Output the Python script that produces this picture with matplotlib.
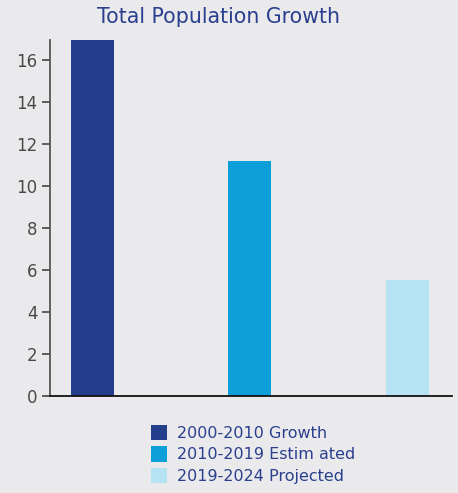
import matplotlib.pyplot as plt
from matplotlib.patches import Patch

periods = ["2000-2010 Growth", "2010-2019 Estim ated", "2019-2024 Projected"]
growth = [16.95, 11.2, 5.5]
colors = ["#233f8b", "#0e9fd9", "#b6e3f4"]
yticks = [0, 2, 4, 6, 8, 10, 12, 14, 16]

bg = "#eaeaec"
text_blue = "#2a3f8e"

fig = plt.figure(figsize=(4.58, 4.93), dpi=100, facecolor=bg)
ax = fig.add_axes([0.109, 0.197, 0.878, 0.722], facecolor=bg)

ax.bar(range(len(growth)), growth, width=0.273, color=colors)

ax.set_xlim(-0.27, 2.283)
ax.set_ylim(0, 16.95)
ax.set_yticks(yticks)
ax.set_xticks([])
ax.tick_params(axis="y", direction="out", length=6, width=1.2, color="#444444",
               labelcolor="#4a4a4a", labelsize=12, pad=3)

for s in ["top", "right"]:
    ax.spines[s].set_visible(False)
ax.spines["left"].set_color("#555555")
ax.spines["left"].set_linewidth(1.3)
ax.spines["bottom"].set_color("#111111")
ax.spines["bottom"].set_linewidth(1.3)

fig.text(0.477, 0.965, "Total Population Growth", ha="center", va="center",
         fontsize=14.8, color=text_blue)

handles = [Patch(facecolor=c, edgecolor="none") for c in colors]
fig.legend(handles, periods, loc="upper left", bbox_to_anchor=(0.330, 0.138),
           frameon=False, fontsize=11.5, labelcolor=text_blue,
           handlelength=1.0, handleheight=1.1, handletextpad=0.65,
           labelspacing=0.33, borderaxespad=0, borderpad=0)

fig.savefig("out.png", dpi=100, facecolor=bg)
